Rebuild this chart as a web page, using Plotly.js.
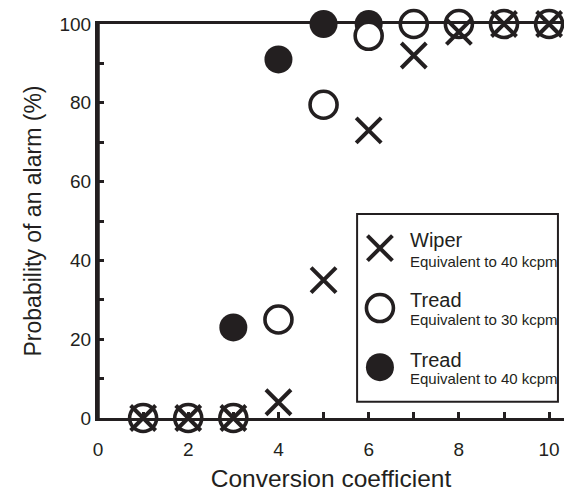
<!DOCTYPE html>
<html>
<head>
<meta charset="utf-8">
<script src="https://cdn.plot.ly/plotly-3.0.1.min.js"></script>
<style>
html,body{margin:0;padding:0;background:#fff;}
#chart{width:564px;height:493px;}
</style>
</head>
<body>
<div id="chart"></div>
<script>
// ---- data ----
var coefficients = [1, 2, 3, 4, 5, 6, 7, 8, 9, 10];
var wiper40 = [0, 0, 0, 4, 35, 73, 92, 98, 100, 100];
var tread30 = [0, 0, 0, 25, 79.5, 97, 100, 100, 100, 100];
var tread40 = [0, 0, 23, 91, 100, 100, 100, 100, 100, 100];

var xTickVals = [0, 1, 2, 3, 4, 5, 6, 7, 8, 9, 10];
var xTickText = ['0', '', '2', '', '4', '', '6', '', '8', '', '10'];
var yTickVals = [0, 10, 20, 30, 40, 50, 60, 70, 80, 90, 100];
var yTickText = ['0', '', '20', '', '40', '', '60', '', '80', '', '100'];

var legendNames = ['Wiper', 'Tread', 'Tread'];
var legendSubs = ['Equivalent to 40 kcpm', 'Equivalent to 30 kcpm', 'Equivalent to 40 kcpm'];

// ---- styles ----
var INK = '#231f20';
var FONT = 'Liberation Sans, Arial, Helvetica, sans-serif';
var X_RANGE = [0, 10.33];
var Y_RANGE = [0, 100];

var symX = {symbol: 'x-thin-open', size: 25, color: INK, line: {color: INK, width: 4}};
var symO = {symbol: 'circle', size: 27, color: '#ffffff', line: {color: INK, width: 3.6}};
var symF = {symbol: 'circle', size: 28, color: INK, line: {width: 0}};

var traces = [
  // left axis line, spanning the y range at x = range start
  {x: [X_RANGE[0], X_RANGE[0]], y: Y_RANGE, type: 'scatter', mode: 'lines', line: {color: INK, width: 3},
    cliponaxis: false, showlegend: false, hoverinfo: 'skip'},
  {x: coefficients, y: tread40, type: 'scatter', mode: 'markers', marker: symF, cliponaxis: false, showlegend: false, name: 'Tread 40'},
  {x: coefficients, y: tread30, type: 'scatter', mode: 'markers', marker: symO, cliponaxis: false, showlegend: false, name: 'Tread 30'},
  {x: coefficients, y: wiper40, type: 'scatter', mode: 'markers', marker: symX, cliponaxis: false, showlegend: false, name: 'Wiper 40'}
];

// ---- custom legend (positions given as fractions of the plot area) ----
var legBox = {x0: 0.556, x1: 0.987, y0: 0.041, y1: 0.518};
var legKeyX = 0.605;
var legKeyY = [0.431, 0.279, 0.129];
var legTextX = 0.665;
var legMainY = [0.452, 0.299, 0.147];
var legSubY = [0.398, 0.249, 0.100];
var legSyms = [symX, symO, symF];

function fx(f) { return X_RANGE[0] + f * (X_RANGE[1] - X_RANGE[0]); }
function fy(f) { return Y_RANGE[0] + f * (Y_RANGE[1] - Y_RANGE[0]); }

legSyms.forEach(function (s, i) {
  traces.push({x: [fx(legKeyX)], y: [fy(legKeyY[i])], type: 'scatter', mode: 'markers',
    marker: s, cliponaxis: false, showlegend: false, hoverinfo: 'skip'});
});

var annotations = [];
legendNames.forEach(function (n, i) {
  annotations.push({xref: 'paper', yref: 'paper', x: legTextX, y: legMainY[i], xanchor: 'left', yanchor: 'middle',
    text: n, showarrow: false, font: {family: FONT, size: 20, color: INK}});
  annotations.push({xref: 'paper', yref: 'paper', x: legTextX, y: legSubY[i], xanchor: 'left', yanchor: 'middle',
    text: legendSubs[i], showarrow: false, font: {family: FONT, size: 15, color: INK}});
});

var layout = {
  width: 564, height: 493,
  margin: {l: 98, r: 0, t: 24, b: 75},
  paper_bgcolor: '#ffffff', plot_bgcolor: '#ffffff',
  font: {family: FONT, color: INK},
  showlegend: false,
  xaxis: {
    range: X_RANGE, tickvals: xTickVals, ticktext: xTickText,
    ticks: 'inside', ticklen: 6, tickwidth: 2.5, tickcolor: INK,
    showline: true, linewidth: 2.8, linecolor: INK, mirror: true,
    showgrid: false, zeroline: false,
    tickfont: {family: FONT, size: 19, color: INK}, ticklabelstandoff: 12,
    title: {text: 'Conversion coefficient', font: {family: FONT, size: 24.5, color: INK}, standoff: 12}
  },
  yaxis: {
    range: Y_RANGE, tickvals: yTickVals, ticktext: yTickText, ticksuffix: '\u00a0',
    ticks: 'inside', ticklen: 6, tickwidth: 2.5, tickcolor: INK,
    showline: true, linewidth: 3, linecolor: INK,
    showgrid: false, zeroline: false,
    tickfont: {family: FONT, size: 19, color: INK},
    title: {text: 'Probability of an alarm (%)', font: {family: FONT, size: 23, color: INK}, standoff: 12}
  },
  shapes: [
    {type: 'rect', xref: 'paper', yref: 'paper', x0: legBox.x0, x1: legBox.x1, y0: legBox.y0, y1: legBox.y1,
      line: {color: INK, width: 2}, fillcolor: 'rgba(0,0,0,0)', layer: 'above'},
    {type: 'line', xref: 'paper', yref: 'paper', x0: 0, x1: 0, y0: 0, y1: 1,
      line: {color: INK, width: 3}, layer: 'above'}
  ],
  annotations: annotations
};

Plotly.newPlot('chart', traces, layout, {displayModeBar: false});
</script>
</body>
</html>
